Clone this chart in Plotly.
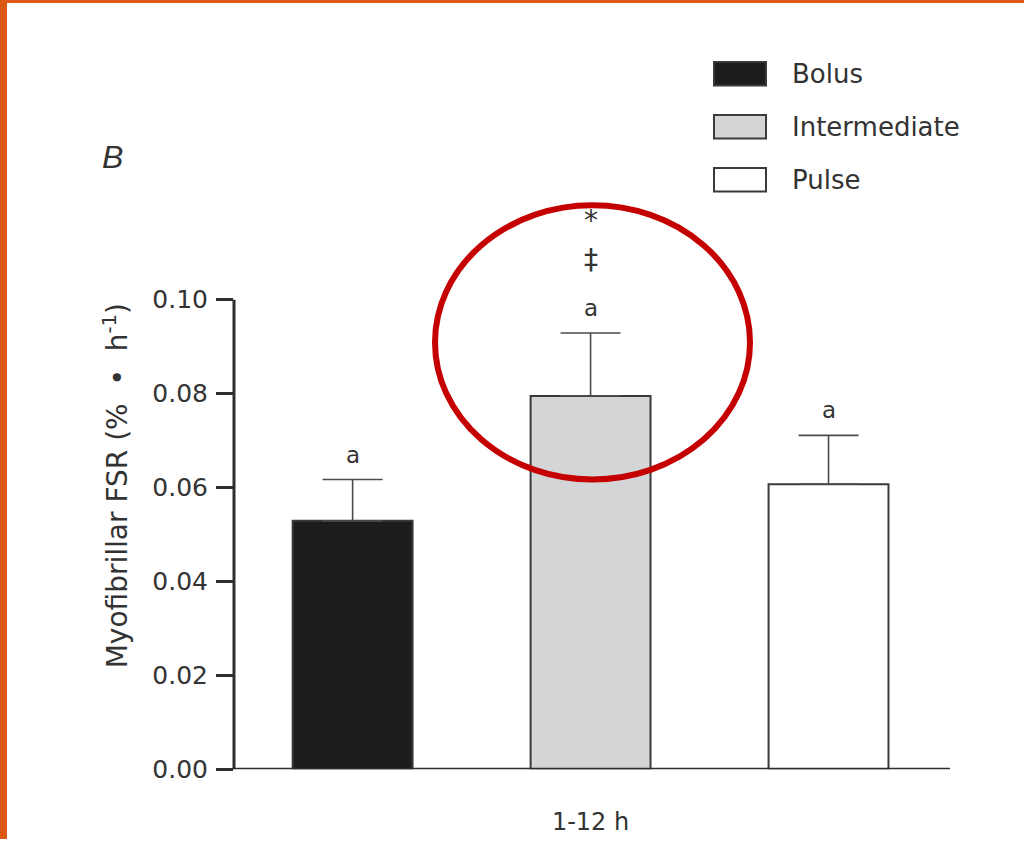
import plotly.graph_objects as go

# Myofibrillar fractional synthetic rate, 1-12 h after exercise
groups = ["Bolus", "Intermediate", "Pulse"]
fsr_mean = [0.0529, 0.0795, 0.0607]
fsr_sem = [0.0088, 0.0134, 0.0104]
fill_colors = ["#1c1c1e", "#d4d5d7", "#ffffff"]
sig_labels = [["a"], ["a", "‡", "*"], ["a"]]
period = "1-12 h"
y_ticks = [0.00, 0.02, 0.04, 0.06, 0.08, 0.10]

W, H = 1024, 854
AX_LEFT, AX_RIGHT = 234, 950       # x axis extent (px)
Y0_PX, PX_PER_UNIT = 783, 4780.0   # y=0 position and scale (px per unit)
Y_MAX = 0.16
FONT = "DejaVu Sans, Arial"
TXT = "#333333"
EDGE = "#3a3a3c"

def px_x(p):
    return p / W

def px_y(p):
    return 1 - p / H

fig = go.Figure()
for g, m, s, c in zip(groups, fsr_mean, fsr_sem, fill_colors):
    fig.add_trace(go.Bar(
        x=[period], y=[m], name=g, showlegend=False,
        marker=dict(color=c, line=dict(color=EDGE, width=2)),
        error_y=dict(type="data", array=[s], arrayminus=[0], symmetric=False,
                     color="#4a4a4c", thickness=1.6, width=30),
    ))

# significance markers stacked above each error bar
n = len(groups)
label_shifts = [25, 73, 112]
label_sizes = {"a": 23, "‡": 28, "*": 28}
for i, (m, s, labs) in enumerate(zip(fsr_mean, fsr_sem, sig_labels)):
    for k, lab in enumerate(labs):
        fig.add_annotation(
            x=(i - (n - 1) / 2) / n * 0.997, xref="x",
            y=m + s, yref="y", yshift=label_shifts[k],
            text=lab, showarrow=False, yanchor="middle",
            font=dict(family=FONT, size=label_sizes[lab], color=TXT),
        )

# y axis line up to 0.10
fig.add_shape(type="line", xref="paper", yref="y",
              x0=px_x(AX_LEFT), x1=px_x(AX_LEFT), y0=0, y1=y_ticks[-1],
              line=dict(color="#2e2e30", width=3))
# x axis line
fig.add_shape(type="line", xref="paper", yref="y",
              x0=px_x(AX_LEFT - 1), x1=px_x(AX_RIGHT), y0=0, y1=0,
              line=dict(color="#2e2e30", width=3))

# legend: boxes and labels
legend_rows = [75, 129, 183]
for g, c, yc in zip(groups, fill_colors, legend_rows):
    fig.add_shape(type="rect", xref="paper", yref="paper",
                  x0=px_x(714), x1=px_x(766), y0=px_y(yc + 12), y1=px_y(yc - 12),
                  fillcolor=c, line=dict(color=EDGE, width=2))
    fig.add_annotation(xref="paper", yref="paper", x=px_x(790), y=px_y(yc),
                       text=g, showarrow=False, xanchor="left", yanchor="middle",
                       font=dict(family=FONT, size=26, color=TXT))

# highlight ellipse
fig.add_shape(type="circle", xref="paper", yref="paper",
              x0=px_x(435), x1=px_x(750), y0=px_y(488), y1=px_y(209),
              line=dict(color="#c40000", width=6))

# slide border
fig.add_shape(type="rect", xref="paper", yref="paper",
              x0=0, x1=px_x(7), y0=0, y1=1, line_width=0, fillcolor="#db5716")
fig.add_shape(type="rect", xref="paper", yref="paper",
              x0=0, x1=1, y0=px_y(3), y1=1, line_width=0, fillcolor="#de5a18")

# panel letter
fig.add_annotation(xref="paper", yref="paper", x=px_x(100), y=px_y(160),
                   text="<i>B</i>", showarrow=False, yanchor="middle",
                   font=dict(family="Liberation Sans, Arial", size=32, color=TXT))

# y axis title
fig.add_annotation(xref="paper", yref="paper", x=px_x(116), y=px_y(495),
                   text="Myofibrillar FSR (%&nbsp; • &nbsp;h<sup>-1</sup>)", showarrow=False,
                   textangle=-90, xanchor="center", yanchor="middle",
                   font=dict(family=FONT, size=28, color=TXT))

top_px = Y0_PX - Y_MAX * PX_PER_UNIT
fig.update_layout(
    width=W, height=H,
    margin=dict(l=0, r=0, t=0, b=0),
    paper_bgcolor="white", plot_bgcolor="white",
    barmode="group", bargap=0.003, bargroupgap=0.496,
    showlegend=False,
    xaxis=dict(domain=[px_x(AX_LEFT), px_x(AX_RIGHT)], range=[-0.498, 0.502],
               showline=False, showgrid=False, zeroline=False, ticks="",
               tickfont=dict(family=FONT, size=24, color=TXT),
               ticklabelstandoff=36),
    yaxis=dict(domain=[px_y(Y0_PX), px_y(top_px)], range=[0, Y_MAX],
               tickvals=y_ticks, ticktext=[f"{v:.2f}" for v in y_ticks],
               ticks="outside", ticklen=17, tickwidth=2.5, tickcolor="#2e2e30",
               ticklabelstandoff=3,
               showline=False, showgrid=False, zeroline=False,
               tickfont=dict(family=FONT, size=25, color=TXT)),
)

fig.write_html("out.html")
